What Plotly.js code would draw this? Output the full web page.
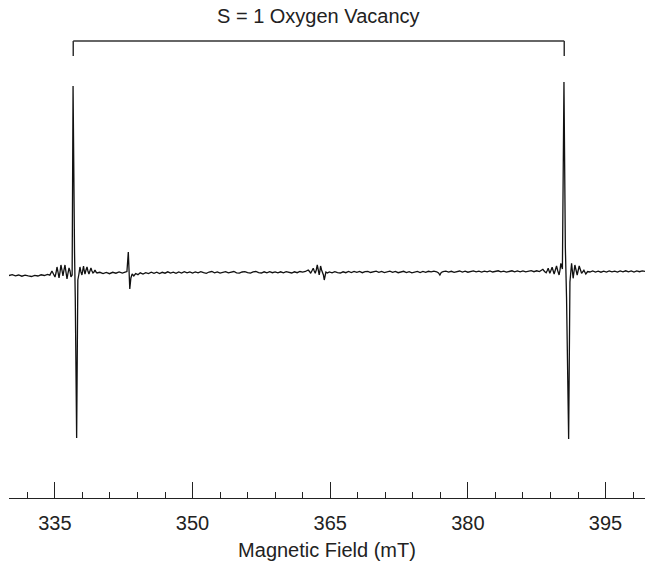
<!DOCTYPE html>
<html>
<head>
<meta charset="utf-8">
<script src="https://cdn.plot.ly/plotly-3.0.1.min.js"></script>
<style>
html,body{margin:0;padding:0;background:#fff;}
#chart{width:645px;height:562px;}
</style>
</head>
<body>
<div id="chart"></div>
<script>
// Magnetic field (mT) and derivative EPR signal (arbitrary units)
const fieldMT = [
330.0,330.35,330.7,331.05,331.4,331.75,332.1,332.45,332.8,333.15,333.5,333.85,334.2,334.45,
334.68,334.85,335.01,335.12,335.23,335.34,335.45,335.56,335.66,335.77,335.88,335.99,336.10,336.21,336.32,336.43,336.54,336.65,336.75,336.88,
336.98,337.14,337.22,337.37,337.50,
337.62,337.73,337.84,337.95,338.04,338.12,338.20,338.28,338.39,338.50,338.60,338.71,338.82,338.93,339.04,339.15,339.26,339.37,339.48,339.59,
339.9,340.25,340.6,340.95,341.3,341.65,342.0,342.35,342.65,342.85,
343.0,343.07,343.16,343.28,343.42,343.6,343.8,
344.05,344.3,344.6,344.9,345.2,345.5,345.8,346.1,346.4,346.7,347.0,347.3,347.6,347.9,348.2,348.5,348.8,349.1,349.4,349.7,
350.0,350.3,350.6,350.9,351.2,351.5,351.8,352.1,352.4,352.7,353.0,353.3,353.6,353.9,354.2,354.5,354.8,355.1,355.4,355.7,
356.0,356.3,356.6,356.9,357.2,357.5,357.8,358.1,358.4,358.7,359.0,359.3,359.6,359.9,360.2,360.5,360.8,361.1,361.4,361.7,
362.0,362.3,362.6,362.75,362.87,363.0,363.15,363.26,363.37,363.48,363.59,363.70,363.80,363.88,363.95,364.06,364.17,364.26,364.35,364.45,364.53,
364.7,364.9,365.2,365.5,365.8,366.1,366.4,366.7,367.0,367.3,367.6,367.9,368.2,368.5,368.8,369.1,369.4,369.7,
370.0,370.3,370.6,370.9,371.2,371.5,371.8,372.1,372.4,372.7,373.0,373.3,373.6,373.9,374.2,374.5,374.8,375.1,375.4,375.7,
376.0,376.3,376.6,376.8,376.95,377.1,377.3,377.6,377.9,378.2,378.5,378.8,379.1,379.4,379.7,
380.0,380.3,380.6,380.9,381.2,381.5,381.8,382.1,382.4,382.7,383.0,383.3,383.6,383.9,384.2,384.5,384.8,385.1,385.4,385.7,
386.0,386.3,386.6,386.9,387.2,387.5,387.8,388.0,
388.17,388.35,388.53,388.65,388.75,388.85,388.93,389.05,389.18,389.30,389.40,389.53,389.66,389.80,389.94,390.04,390.13,390.30,
390.47,390.62,390.75,390.98,391.12,
391.30,391.47,391.66,391.91,392.13,392.39,392.64,392.85,393.05,
393.3,393.6,393.9,394.2,394.5,394.8,395.1,395.4,395.7,396.0,396.3,396.6,396.9,397.2,397.5,397.8,398.1,398.4,398.7,399.0,399.3
];
const signal = [
-3.5,-2.6,-3.9,-3.0,-4.2,-3.2,-3.9,-4.5,-3.4,-4.0,-2.8,-3.5,-2.4,-3.1,
1,-2,-5,-1,5,0,-6,0,7,2,-4,2,7,0,-7,-1,4,1,-5,-3,
186,20,-25,-166,-8,
-2,5,0,-3,2,6,1,-2,2,5,1,-2,1,4,1,-1,0,2,0,-1,
-0.3,-1.5,-0.4,-1.7,-0.3,-1.2,0.1,-1.0,-0.1,0.5,
20,4,-17,-6,-2,-4,-1.5,
-2.7,-0.8,-2.0,-0.6,-1.5,-0.1,-1.3,-0.2,-1.6,-0.3,-1.2,0.2,-1.1,-0.1,-1.4,0.0,-1.0,0.4,-0.9,0.1,
-1.1,0.0,-0.9,0.4,-0.7,-1.3,0.0,0.5,-0.8,0.1,-1.1,-0.1,0.4,-0.9,0.0,0.5,-0.8,-1.2,0.0,0.4,
-0.7,-1.1,0.1,0.5,-0.6,-1.0,0.2,-0.8,0.4,-0.7,0.1,-0.9,0.2,-0.8,0.3,-0.6,-1.0,0.2,-0.7,0.5,
-0.2,0.5,2,0.5,-1.3,1,3.7,1,-1.3,2,7,2,-3,1,6,2,-1,-3,-8,-3,0,
-1.0,0.1,-0.9,0.3,-0.6,-1.0,0.2,-0.7,0.5,-0.5,0.6,-0.4,0.5,-0.7,0.3,0.7,-0.5,0.4,
0.8,-0.3,0.6,-0.6,0.4,0.8,-0.4,0.5,-0.7,0.3,0.7,-0.5,0.4,-0.8,0.3,0.6,-0.5,0.5,-0.3,0.7,
0.1,0.8,0.2,-1,-3,-0.5,0.3,0.9,-0.1,0.7,-0.3,0.6,1.0,0.0,0.8,
-0.2,0.7,1.1,0.1,0.8,-0.1,0.9,0.1,1.0,0.0,0.8,1.2,0.2,0.9,-0.1,0.8,1.2,0.1,1.0,0.2,
1.1,0.1,0.9,1.3,0.3,1.2,0.4,1.4,
2.7,0.5,-0.7,1.5,3.7,1,-1.3,1.5,4.7,1,-2,2,6,1,-3,2,8.7,3,
190,25,-25,-167,-10,
8.7,-6.3,7,-3,6,-1.3,1.7,-2,0.5,
0.0,1.0,-0.1,0.8,-0.2,0.9,0.0,1.1,0.1,0.9,-0.1,1.0,0.2,1.2,0.1,1.0,0.0,1.1,0.3,1.2,0.6
];
// The two S = 1 lines joined by the bracket (mT)
const bracketFields = [337.0, 390.5];
const bracketLabel = "S = 1 Oxygen Vacancy";
const tickVals = [335, 350, 365, 380, 395];
const tickText = ["335", "350", "365", "380", "395"];
const xTitle = "Magnetic Field (mT)";

const FONT = "Liberation Sans, Arial, sans-serif";

const trace = {
  x: fieldMT, y: signal, type: "scatter", mode: "lines",
  line: {color: "#111", width: 1.3}, hoverinfo: "skip"
};

const yTop = 0.9365, yTick = 0.9057;
const shapes = [
  {type: "line", xref: "x", yref: "paper", x0: bracketFields[0], x1: bracketFields[1], y0: yTop, y1: yTop, line: {color: "#333", width: 1.5}},
  {type: "line", xref: "x", yref: "paper", x0: bracketFields[0], x1: bracketFields[0], y0: yTop, y1: yTick, line: {color: "#333", width: 1.5}},
  {type: "line", xref: "x", yref: "paper", x0: bracketFields[1], x1: bracketFields[1], y0: yTop, y1: yTick, line: {color: "#333", width: 1.5}}
];

const layout = {
  width: 645, height: 562,
  margin: {l: 9, r: 0, t: 10, b: 64},
  paper_bgcolor: "#fff", plot_bgcolor: "#fff",
  showlegend: false,
  font: {family: FONT, size: 20, color: "#222"},
  xaxis: {
    range: [330, 399.3],
    showline: true, linecolor: "#222", linewidth: 1,
    showgrid: false, zeroline: false,
    ticks: "inside", ticklen: 16, tickwidth: 1, tickcolor: "#222",
    tickmode: "array", tickvals: tickVals, ticktext: tickText,
    ticklabelstandoff: 7,
    tickfont: {family: FONT, size: 20, color: "#222"},
    minor: {dtick: 3, tick0: 335, ticks: "inside", ticklen: 6, tickwidth: 1, tickcolor: "#222"},
    title: {text: xTitle, font: {family: FONT, size: 20, color: "#222"}, standoff: 9}
  },
  yaxis: {range: [-226, 262], visible: false, showgrid: false, zeroline: false},
  shapes: shapes,
  annotations: [{
    text: bracketLabel, xref: "x", yref: "paper",
    x: (bracketFields[0] + bracketFields[1]) / 2, y: 0.9877,
    xanchor: "center", yanchor: "middle", showarrow: false,
    font: {family: FONT, size: 20, color: "#222"}
  }]
};

Plotly.newPlot("chart", [trace], layout, {staticPlot: true, displayModeBar: false});
</script>
</body>
</html>
